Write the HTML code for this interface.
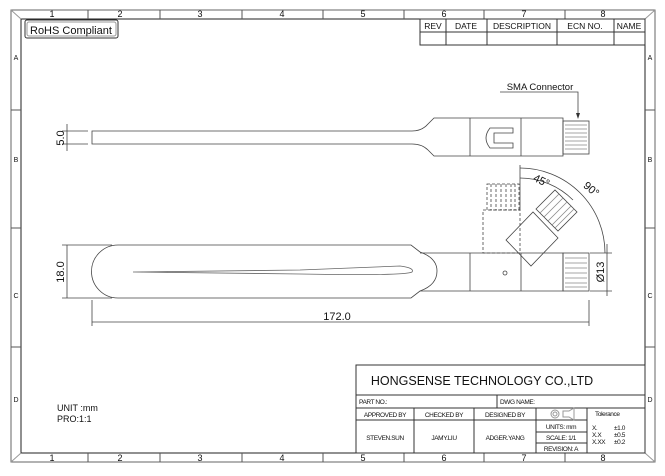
<!DOCTYPE html>
<html><head><meta charset="utf-8"><style>
html,body{margin:0;padding:0;background:#fff}
svg{display:block}
text{font-family:"Liberation Sans",sans-serif;fill:#111}
</style></head><body>
<svg width="665" height="476" viewBox="0 0 665 476" xmlns="http://www.w3.org/2000/svg">
<g fill="none" stroke="#333" stroke-width="1">
<rect x="11" y="10" width="644" height="452" stroke="#666"/>
<rect x="21" y="19" width="624" height="434" stroke="#222"/>
<line x1="11" y1="10" x2="21" y2="19" stroke="#999"/><line x1="655" y1="10" x2="645" y2="19" stroke="#999"/>
<line x1="11" y1="462" x2="21" y2="453" stroke="#999"/><line x1="655" y1="462" x2="645" y2="453" stroke="#999"/>
<g stroke="#555">
<line x1="88" y1="10" x2="88" y2="19"/><line x1="160" y1="10" x2="160" y2="19"/><line x1="242" y1="10" x2="242" y2="19"/><line x1="323" y1="10" x2="323" y2="19"/><line x1="404" y1="10" x2="404" y2="19"/><line x1="484" y1="10" x2="484" y2="19"/><line x1="565" y1="10" x2="565" y2="19"/>
<line x1="88" y1="453" x2="88" y2="462"/><line x1="160" y1="453" x2="160" y2="462"/><line x1="242" y1="453" x2="242" y2="462"/><line x1="323" y1="453" x2="323" y2="462"/><line x1="404" y1="453" x2="404" y2="462"/><line x1="484" y1="453" x2="484" y2="462"/><line x1="565" y1="453" x2="565" y2="462"/>
<line x1="11" y1="110" x2="21" y2="110"/><line x1="11" y1="228" x2="21" y2="228"/><line x1="11" y1="347" x2="21" y2="347"/>
<line x1="645" y1="110" x2="655" y2="110"/><line x1="645" y1="228" x2="655" y2="228"/><line x1="645" y1="347" x2="655" y2="347"/>
</g>
<rect x="25" y="20" width="93" height="18" rx="2"/><rect x="27" y="22" width="89" height="14" rx="2" stroke="#999"/>
<rect x="420" y="19" width="225" height="26"/>
<line x1="420" y1="32" x2="645" y2="32"/>
<line x1="446" y1="19" x2="446" y2="45"/><line x1="487" y1="19" x2="487" y2="45"/><line x1="557" y1="19" x2="557" y2="45"/><line x1="614" y1="19" x2="614" y2="45"/>
<rect x="356" y="365" width="289" height="88"/>
<line x1="356" y1="395" x2="645" y2="395"/><line x1="356" y1="408" x2="645" y2="408"/><line x1="356" y1="420" x2="587" y2="420"/>
<line x1="497" y1="395" x2="497" y2="408"/>
<line x1="414" y1="408" x2="414" y2="453"/><line x1="474" y1="408" x2="474" y2="453"/><line x1="536" y1="408" x2="536" y2="453"/><line x1="587" y1="408" x2="587" y2="453"/>
<line x1="536" y1="432" x2="587" y2="432"/><line x1="536" y1="443" x2="587" y2="443"/>
<circle cx="555" cy="414" r="4" stroke="#999"/><circle cx="555" cy="414" r="2" stroke="#999"/>
<path d="M563 411 h6 l5 -3 v12 l-5 -3 h-6 z" stroke="#999"/>
</g>
<g font-size="9" text-anchor="middle">
<text x="52" y="17">1</text><text x="120" y="17">2</text><text x="200" y="17">3</text><text x="282" y="17">4</text><text x="363" y="17">5</text><text x="444" y="17">6</text><text x="524" y="17">7</text><text x="603" y="17">8</text>
<text x="52" y="461">1</text><text x="120" y="461">2</text><text x="200" y="461">3</text><text x="282" y="461">4</text><text x="363" y="461">5</text><text x="444" y="461">6</text><text x="524" y="461">7</text><text x="603" y="461">8</text>
<g font-size="7"><text x="16" y="60">A</text><text x="16" y="162">B</text><text x="16" y="298">C</text><text x="16" y="402">D</text>
<text x="650" y="60">A</text><text x="650" y="162">B</text><text x="650" y="298">C</text><text x="650" y="402">D</text></g>
</g>
<text x="30" y="34" font-size="11">RoHS Compliant</text>
<g font-size="8.5" text-anchor="middle">
<text x="433" y="29">REV</text><text x="466" y="29">DATE</text><text x="522" y="29">DESCRIPTION</text><text x="585" y="29">ECN NO.</text><text x="629" y="29">NAME</text>
</g>
<text x="482" y="385" font-size="12.5" text-anchor="middle">HONGSENSE TECHNOLOGY CO.,LTD</text>
<g font-size="6.5" letter-spacing="-0.4">
<text x="359" y="404">PART NO.:</text><text x="500" y="404">DWG NAME:</text>
<g text-anchor="middle">
<text x="385" y="417">APPROVED BY</text><text x="444" y="417">CHECKED BY</text><text x="505" y="417">DESIGNED BY</text>
<text x="385" y="440">STEVEN.SUN</text><text x="444" y="440">JAMY.LIU</text><text x="505" y="440">ADGER.YANG</text>
<text x="561" y="429">UNITS: mm</text><text x="561" y="440">SCALE: 1/1</text><text x="561" y="451">REVISION: A</text>
</g>
<text x="595" y="416">Tolerance</text>
<text x="592" y="430">X.</text><text x="614" y="430">±1.0</text>
<text x="592" y="437">X.X</text><text x="614" y="437">±0.5</text>
<text x="592" y="444">X.XX</text><text x="614" y="444">±0.2</text>
</g>
<text x="57" y="411" font-size="9">UNIT :mm</text>
<text x="57" y="422" font-size="9">PRO:1:1</text>

<g fill="none" stroke="#444" stroke-width="0.8">
<path d="M92 131 H412 Q422 131 428 124 L434 118 H563 V156 H434 L428 150 Q422 144 412 144 H92 Z"/>
<line x1="470" y1="118" x2="470" y2="156"/><line x1="521" y1="118" x2="521" y2="156"/>
<path d="M490 128 Q482 138 490 148 H513 V143 H494 V133 H513 V128 Z"/>
<rect x="563" y="121" width="26" height="33"/>
<g stroke="#888"><line x1="565" y1="125" x2="587" y2="125"/><line x1="565" y1="129" x2="587" y2="129"/><line x1="565" y1="133" x2="587" y2="133"/><line x1="565" y1="137" x2="587" y2="137"/><line x1="565" y1="141" x2="587" y2="141"/><line x1="565" y1="145" x2="587" y2="145"/><line x1="565" y1="149" x2="587" y2="149"/></g>
<path d="M118 245 H411 L420 252 Q437 258 437 271 Q437 285 420 291 L411 298 H118 A26.5 26.5 0 0 1 118 245 Z"/>
<path d="M420 253 H563 V291 H420"/>
<line x1="470" y1="253" x2="470" y2="291"/><line x1="521" y1="253" x2="521" y2="291"/>
<circle cx="505" cy="273" r="2"/>
<path d="M133 272 L300 270 L400 266 Q415 268 412 272 Q405 276 300 274 Z" stroke="#666"/>
<rect x="563" y="253" width="26" height="38"/>
<g stroke="#888"><line x1="565" y1="258" x2="587" y2="258"/><line x1="565" y1="263" x2="587" y2="263"/><line x1="565" y1="268" x2="587" y2="268"/><line x1="565" y1="273" x2="587" y2="273"/><line x1="565" y1="278" x2="587" y2="278"/><line x1="565" y1="283" x2="587" y2="283"/><line x1="565" y1="287" x2="587" y2="287"/></g>
<g stroke-dasharray="3,2">
<rect x="483" y="210" width="37" height="43"/>
<rect x="487" y="184" width="32" height="26"/>
<line x1="491" y1="184" x2="491" y2="210"/><line x1="496" y1="184" x2="496" y2="210"/><line x1="501" y1="184" x2="501" y2="210"/><line x1="506" y1="184" x2="506" y2="210"/><line x1="511" y1="184" x2="511" y2="210"/><line x1="515" y1="184" x2="515" y2="210"/>
</g>
<polygon points="506,240 533,212 558,238 531,266"/>
<polygon points="536,209 555,190 577,212 558,231"/>
<g stroke="#888"><line x1="540" y1="213" x2="559" y2="194"/><line x1="544" y1="217" x2="563" y2="198"/><line x1="548" y1="221" x2="567" y2="202"/><line x1="552" y1="225" x2="571" y2="206"/><line x1="555" y1="228" x2="574" y2="209"/></g>
<line x1="520" y1="165" x2="520" y2="210"/>
<path d="M520 168 A85 85 0 0 1 605 253"/>
<path d="M520 178 A75 75 0 0 1 573 200"/>
<line x1="62" y1="131" x2="88" y2="131"/><line x1="62" y1="144" x2="88" y2="144"/><line x1="67" y1="124" x2="67" y2="151"/>
<line x1="62" y1="245" x2="112" y2="245"/><line x1="62" y1="298" x2="112" y2="298"/><line x1="67" y1="245" x2="67" y2="298"/>
<line x1="92" y1="300" x2="92" y2="326"/><line x1="589" y1="300" x2="589" y2="326"/><line x1="92" y1="322" x2="589" y2="322"/>
<line x1="590" y1="253" x2="612" y2="253"/><line x1="590" y1="291" x2="612" y2="291"/><line x1="607" y1="244" x2="607" y2="296"/>
<path d="M500 92 H578 V117"/>
</g>
<path d="M576 113 L578 119 L580 113 Z" fill="#333"/>
<text x="540" y="90" font-size="9.5" text-anchor="middle">SMA Connector</text>
<text x="64" y="138" font-size="11" text-anchor="middle" transform="rotate(-90 64 138)">5.0</text>
<text x="64" y="272" font-size="11" text-anchor="middle" transform="rotate(-90 64 272)">18.0</text>
<text x="337" y="320" font-size="11" text-anchor="middle">172.0</text>
<text x="604" y="272" font-size="11" text-anchor="middle" transform="rotate(-90 604 272)">Ø13</text>
<text x="540" y="184" font-size="11" text-anchor="middle" transform="rotate(25 540 184)">45°</text>
<text x="589" y="192" font-size="11" text-anchor="middle" transform="rotate(40 589 192)">90°</text>
</svg>
</body></html>
